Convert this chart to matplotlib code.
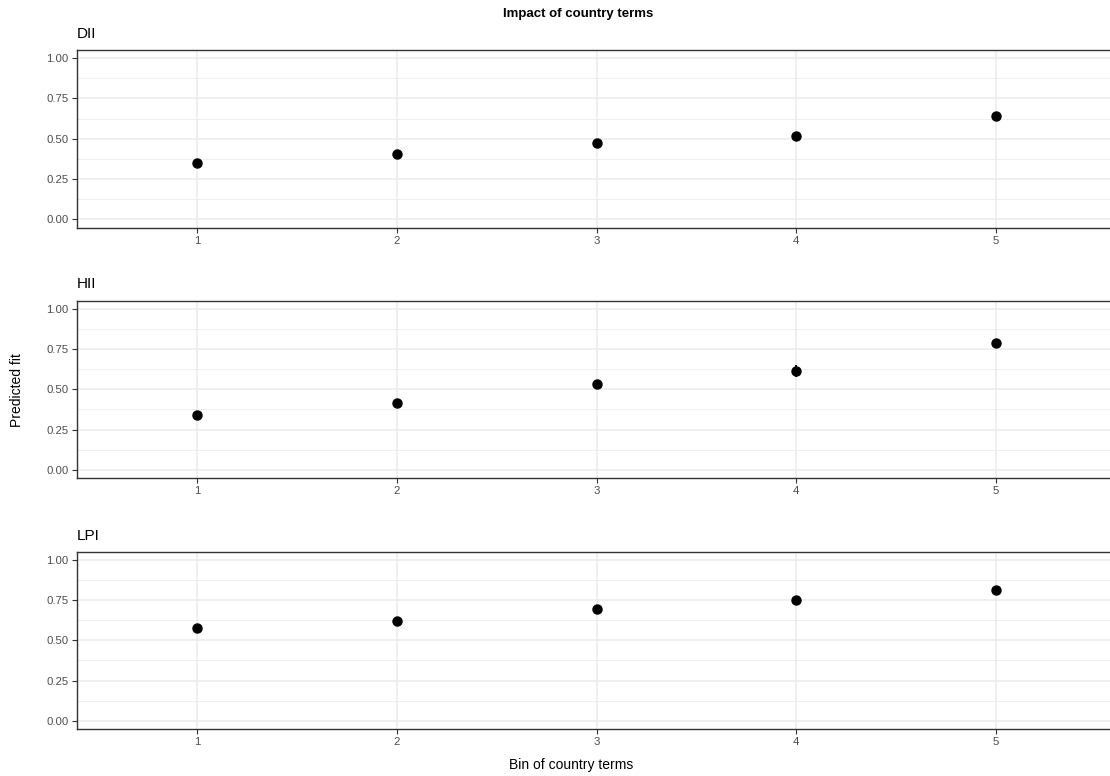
import matplotlib
matplotlib.use("Agg")
import matplotlib.pyplot as plt
from matplotlib.ticker import MultipleLocator, FixedLocator

plt.rcParams['font.family'] = ['Liberation Sans', 'DejaVu Sans']

# Predicted fit by bin of country terms, one panel per index
bins = [1, 2, 3, 4, 5]
panels = ["DII", "HII", "LPI"]
fit_dii = [0.348, 0.403, 0.476, 0.517, 0.642]
fit_hii = [0.338, 0.412, 0.533, 0.614, 0.784]
fit_lpi = [0.578, 0.621, 0.694, 0.751, 0.814]
lo_dii = [0.335, 0.390, 0.463, 0.503, 0.626]
hi_dii = [0.361, 0.416, 0.489, 0.531, 0.658]
lo_hii = [0.322, 0.398, 0.518, 0.575, 0.768]
hi_hii = [0.354, 0.426, 0.548, 0.653, 0.800]
lo_lpi = [0.563, 0.607, 0.681, 0.738, 0.799]
hi_lpi = [0.593, 0.635, 0.707, 0.764, 0.829]
y_ticks = [0.00, 0.25, 0.50, 0.75, 1.00]
y_ticklabels = ["0.00", "0.25", "0.50", "0.75", "1.00"]

series = {
    "DII": (fit_dii, lo_dii, hi_dii),
    "HII": (fit_hii, lo_hii, hi_hii),
    "LPI": (fit_lpi, lo_lpi, hi_lpi),
}

W, H = 1110, 776
fig = plt.figure(figsize=(W / 100, H / 100), dpi=100)

left_px, right_px = 77, 1116
panel_tops = [50, 300.5, 551.5]
panel_h = 177.5

border = "#333333"
grid = "#EBEBEB"
tick_txt = "#4D4D4D"

for name, top in zip(panels, panel_tops):
    ax = fig.add_axes([left_px / W, 1 - (top + panel_h) / H,
                       (right_px - left_px) / W, panel_h / H])
    fit, lo, hi = series[name]
    ax.set_xlim(0.4, 5.6)
    ax.set_ylim(-0.05, 1.05)
    ax.yaxis.set_major_locator(FixedLocator(y_ticks))
    ax.yaxis.set_minor_locator(MultipleLocator(0.125))
    ax.set_yticklabels(y_ticklabels)
    ax.set_xticks(bins)
    ax.set_xticklabels([str(b) for b in bins])
    ax.grid(True, which="major", color=grid, linewidth=1.1, zorder=0)
    ax.grid(True, which="minor", axis="y", color=grid, linewidth=0.6, zorder=0)
    ax.set_axisbelow(True)
    for s in ["left", "top", "bottom"]:
        ax.spines[s].set_color(border)
        ax.spines[s].set_linewidth(1.0)
    ax.spines["right"].set_visible(False)
    ax.tick_params(axis="both", which="major", length=3.5, width=0.8,
                   color=border, labelcolor=tick_txt, labelsize=8.2, pad=2.5)
    ax.tick_params(axis="both", which="minor", length=0)
    ax.vlines(bins, lo, hi, color="black", linewidth=1.4, zorder=3)
    ax.plot(bins, fit, "o", color="black", markersize=6.5, zorder=4)
    fig.text(left_px / W, 1 - (top - 16) / H, name, fontsize=11,
             ha="left", va="center", color="black")

fig.text(578 / W, 1 - 14 / H, "Impact of country terms", fontsize=9.5,
         fontweight="bold", ha="center", va="center")
fig.text(571 / W, 1 - 765 / H, "Bin of country terms", fontsize=10,
         ha="center", va="center")
fig.text(17 / W, 1 - 390 / H, "Predicted fit", fontsize=10, rotation=90,
         ha="center", va="center")

fig.savefig("out.png", dpi=100)
